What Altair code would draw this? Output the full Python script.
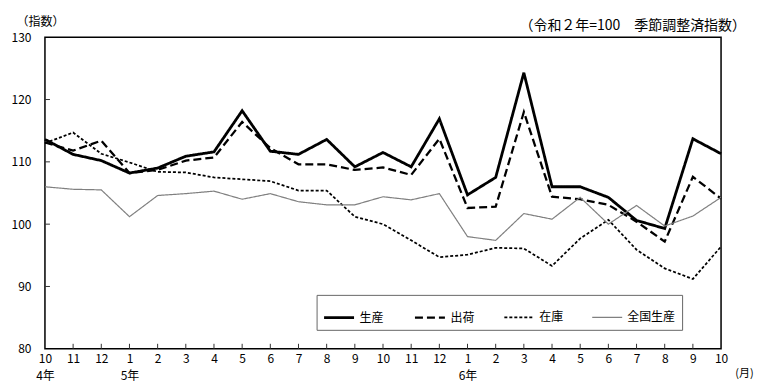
import altair as alt
import pandas as pd

months = ["10", "11", "12", "1", "2", "3", "4", "5", "6", "7", "8", "9",
          "10", "11", "12", "1", "2", "3", "4", "5", "6", "7", "8", "9", "10"]
years = ["4年", "", "", "5年", "", "", "", "", "", "", "", "", "", "", "",
         "6年", "", "", "", "", "", "", "", "", ""]

seisan = [113.6, 111.2, 110.2, 108.2, 109.0, 110.9, 111.6, 118.2, 111.7, 111.2, 113.6, 109.2,
          111.5, 109.2, 116.9, 104.7, 107.5, 124.3, 106.0, 106.0, 104.3, 100.6, 99.3, 113.7, 111.3]
shukka = [113.1, 111.8, 113.4, 108.2, 108.7, 110.2, 110.7, 116.4, 112.2, 109.6, 109.6, 108.7,
          109.1, 107.9, 113.7, 102.6, 102.8, 118.0, 104.4, 104.0, 103.1, 100.4, 97.2, 107.6, 104.1]
zaiko = [113.0, 114.7, 111.3, 109.9, 108.4, 108.3, 107.5, 107.2, 106.9, 105.4, 105.4, 101.2,
         100.0, 97.4, 94.7, 95.1, 96.2, 96.1, 93.3, 97.7, 100.7, 95.9, 92.9, 91.2, 96.4]
zenkoku = [106.0, 105.6, 105.5, 101.2, 104.6, 104.9, 105.3, 104.0, 104.9, 103.6, 103.1, 103.1,
           104.4, 103.9, 104.9, 98.0, 97.4, 101.7, 100.8, 104.3, 100.0, 103.0, 99.7, 101.3, 104.3]

series_names = ["生産", "出荷", "在庫", "全国生産"]
y_values = [80, 90, 100, 110, 120, 130]
inner_y_ticks = [90, 100, 110, 120]

rows = []
for name, vals in zip(series_names, [seisan, shukka, zaiko, zenkoku]):
    for i, v in enumerate(vals):
        rows.append({"idx": i, "series": name, "value": v})
df = pd.DataFrame(rows)

W, H = 677, 312
FONT = "Noto Sans CJK JP"
n = len(months)

label_expr = "[" + ",".join("['%s','%s']" % (m, y) for m, y in zip(months, years)) + "][datum.value]"

xscale = alt.Scale(domain=[0, n - 1], nice=False, zero=False)
yscale = alt.Scale(domain=[80, 130], nice=False, zero=False)

xaxis = alt.Axis(values=list(range(n)), labelExpr=label_expr, tickSize=0, domain=False,
                 grid=False, labelPadding=5, labelLineHeight=17, labelOverlap=False,
                 labelFlush=False, title="(月)", titleX=700, titleY=25,
                 titleAlign="center", titleBaseline="middle", titleFontWeight="normal",
                 titleFontSize=11)
yaxis = alt.Axis(values=y_values, tickSize=0, domain=False, grid=False, labelPadding=14,
                 title="（指数）", titleAngle=0, titleX=-5, titleY=-16,
                 titleAlign="center", titleBaseline="middle", titleFontWeight="normal",
                 titleFontSize=12)

colors = ["#000000", "#000000", "#000000", "#808080"]
dashes = [[1, 0], [8, 4], [3, 2], [1, 0]]
widths = [2.8, 1.2, 1.2, 1]

lines = alt.Chart(df).mark_line().encode(
    x=alt.X("idx:Q", scale=xscale, axis=xaxis),
    y=alt.Y("value:Q", scale=yscale, axis=yaxis),
    color=alt.Color("series:N", scale=alt.Scale(domain=series_names, range=colors),
                    legend=alt.Legend(title=None)),
    strokeDash=alt.StrokeDash("series:N", scale=alt.Scale(domain=series_names, range=dashes),
                              legend=alt.Legend(title=None)),
    strokeWidth=alt.StrokeWidth("series:N", scale=alt.Scale(domain=series_names, range=widths),
                                legend=alt.Legend(title=None)),
)

ytick = alt.Chart(pd.DataFrame({"value": inner_y_ticks})).mark_rule(color="#333333", strokeWidth=1).encode(
    y=alt.Y("value:Q", scale=yscale, axis=yaxis), x=alt.value(0), x2=alt.value(5))

xtick = alt.Chart(pd.DataFrame({"idx": list(range(1, n - 1))})).mark_rule(color="#333333", strokeWidth=1).encode(
    x=alt.X("idx:Q", scale=xscale, axis=xaxis), y=alt.value(H), y2=alt.value(H - 5))

chart = alt.layer(lines, ytick, xtick).properties(
    width=W, height=H,
    autosize="none",
    padding={"left": 37, "top": 29, "right": 40, "bottom": 34},
    title=alt.TitleParams("（令和２年=100　季節調整済指数）", anchor="end", frame="group",
                          fontSize=14, fontWeight="normal", font=FONT, dx=25, dy=22, offset=4,
                          color="#000000"),
).configure_view(
    stroke="#000000", strokeWidth=1.5
).configure_axis(
    labelFont=FONT, titleFont=FONT, labelFontSize=12, labelColor="#000000", titleColor="#000000"
).configure_legend(
    orient="none", legendX=272, legendY=258, direction="horizontal",
    symbolType="stroke", symbolSize=900, padding=6, strokeColor="#666666", fillColor="#ffffff",
    columnPadding=25, labelFont=FONT, labelFontSize=12, labelColor="#000000", labelOffset=4
)

chart.save("out.html", embed_options={"renderer": "svg", "actions": False})
